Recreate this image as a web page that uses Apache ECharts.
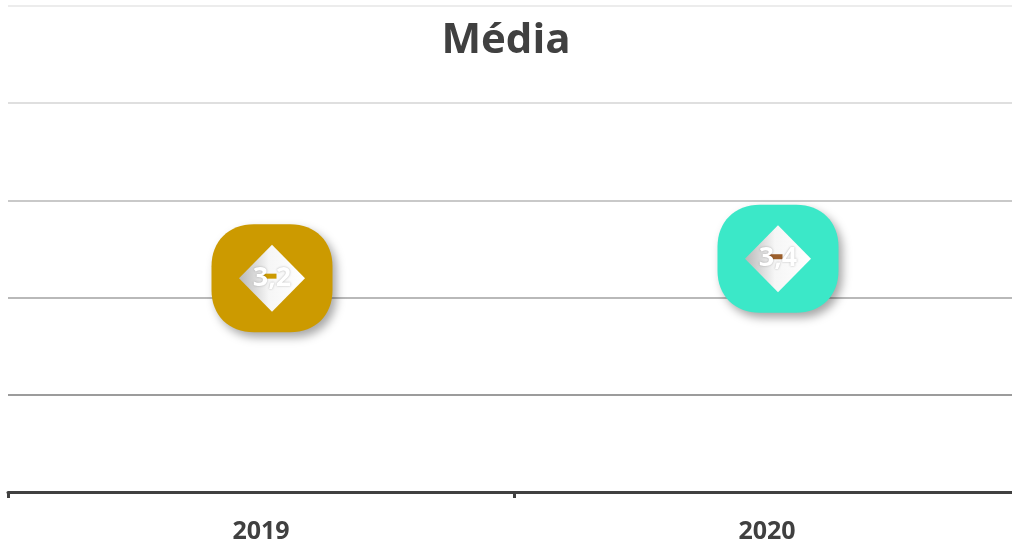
<!DOCTYPE html>
<html>
<head>
<meta charset="utf-8">
<script src="https://cdn.jsdelivr.net/npm/echarts@6/dist/echarts.min.js"></script>
<style>
    html, body {margin: 0; padding: 0; background: #fff;}
    #chart {width: 1012px; height: 542px;}
</style>
</head>
<body>
<div id="chart"></div>
<script>
// dados
const years = ['2019', '2020'];
const media = [3.2, 3.4];
const fillColors = ['#CC9A00', '#3BE8C8'];
const spotColors = ['#CC9A00', '#9C5F2B'];
const gridColors = ['#ffffff', '#9c9c9c', '#b9b9b9', '#c9c9c9', '#dfdfdf', '#ececec'];

let chart = echarts.init(document.getElementById('chart'));

// quadrado arredondado
let roundShape = 'path://M42,0 H78 C103,0 120,17 120,42 V66 C120,91 103,108 78,108 H42 C17,108 0,91 0,66 V42 C0,17 17,0 42,0 Z';

let shapeData = media.map(function (v, i) {
    return {value: v, itemStyle: {color: fillColors[i]}};
});
let spotData = media.map(function (v, i) {
    return {value: v, itemStyle: {color: spotColors[i]}};
});

let option = {
    backgroundColor: '#fff',
    title: {
        text: 'Média',
        left: 'center',
        top: 15,
        textStyle: {
            fontFamily: 'Open Sans',
            fontWeight: 'bold',
            fontSize: 42,
            color: '#404040'
        }
    },
    grid: {
        left: 8,
        right: -8,
        top: 6,
        bottom: 50,
        containLabel: false,
        outerBoundsMode: 'none'
    },
    xAxis: {
        type: 'category',
        data: years,
        boundaryGap: true,
        axisLine: {
            lineStyle: {color: '#404040', width: 3}
        },
        axisTick: {
            show: true,
            length: 6,
            lineStyle: {color: '#404040', width: 3}
        },
        axisLabel: {
            margin: 27,
            fontFamily: 'Open Sans',
            fontWeight: 'bold',
            fontSize: 25,
            color: '#404040'
        }
    },
    yAxis: {
        type: 'value',
        min: 1,
        max: 6,
        interval: 1,
        axisLine: {show: false},
        axisTick: {show: false},
        axisLabel: {show: false},
        splitLine: {
            lineStyle: {color: gridColors, width: 2}
        }
    },
    series: [
        {
            type: 'scatter',
            z: 2,
            symbol: roundShape,
            symbolSize: [121, 108],
            symbolOffset: [11, 0],
            itemStyle: {
                opacity: 1,
                shadowBlur: 10,
                shadowOffsetX: 4,
                shadowOffsetY: 5,
                shadowColor: 'rgba(0,0,0,0.35)'
            },
            data: shapeData
        },
        {
            type: 'scatter',
            z: 3,
            symbol: 'diamond',
            symbolSize: [66, 67],
            symbolOffset: [11, 0],
            itemStyle: {
                opacity: 1,
                color: {
                    type: 'linear', x: 0, y: 0, x2: 1, y2: 0,
                    colorStops: [
                        {offset: 0, color: '#b8b8b8'},
                        {offset: 0.45, color: '#f6f6f6'},
                        {offset: 1, color: '#ffffff'}
                    ]
                }
            },
            data: media
        },
        {
            type: 'scatter',
            z: 4,
            symbol: 'rect',
            symbolSize: [13, 5],
            symbolOffset: [9, -2],
            itemStyle: {opacity: 1},
            label: {
                show: true,
                position: 'inside',
                offset: [2, 2],
                formatter: function (p) {
                    return String(p.value).replace('.', ',');
                },
                fontFamily: 'Open Sans',
                fontWeight: 'bold',
                fontSize: 27,
                color: '#fff',
                textShadowColor: 'rgba(0,0,0,0.3)',
                textShadowBlur: 2
            },
            data: spotData
        }
    ]
};

chart.setOption(option);
</script>
</body>
</html>
